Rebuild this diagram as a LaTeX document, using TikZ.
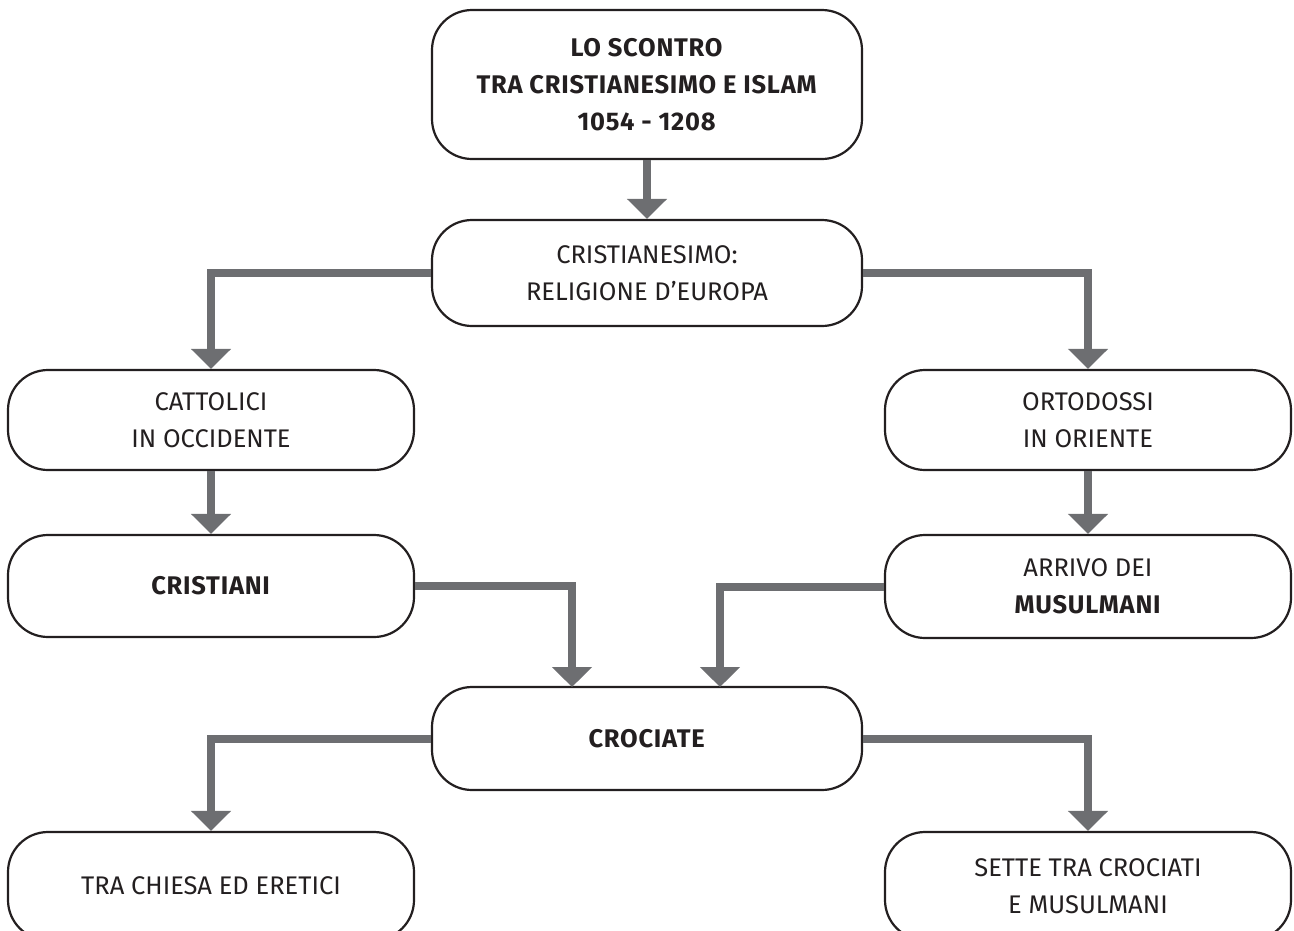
\documentclass[tikz,border=0pt]{standalone}
\usepackage{fontspec}
\setmainfont{Fira Sans}[BoldFeatures={LetterSpace=3}]
\usetikzlibrary{arrows.meta}
\definecolor{conngray}{HTML}{6D6E71}
\definecolor{ink}{HTML}{231F20}
\begin{document}
\begin{tikzpicture}[x=1pt,y=-1pt,
  box/.style={draw=ink, line width=2.2pt, rounded corners=40pt, fill=white,
    align=center, text=ink, inner sep=0pt,
    font=\fontsize{25.5}{37}\selectfont},
  conn/.style={draw=conngray, line width=8pt,
    -{Triangle[width=39pt,length=20pt]}}]
\useasboundingbox (0,0) rectangle (1294,930);
\clip (0,0) rectangle (1294,930);
\node[box, minimum width=430pt, minimum height=149pt] (b1) at (647,84.5)
  {\textbf{LO SCONTRO}\\\textbf{TRA CRISTIANESIMO E ISLAM}\\\textbf{1054 - 1208}};
\node[box, minimum width=430pt, minimum height=106pt] (b2) at (647,273)
  {CRISTIANESIMO:\\RELIGIONE D’EUROPA};
\node[box, minimum width=406pt, minimum height=100pt] (b3) at (211,420)
  {CATTOLICI\\IN OCCIDENTE};
\node[box, minimum width=406pt, minimum height=100pt] (b4) at (1088,420)
  {ORTODOSSI\\IN ORIENTE};
\node[box, minimum width=406pt, minimum height=102pt] (b5) at (211,586)
  {\textbf{CRISTIANI}};
\node[box, minimum width=406pt, minimum height=103pt] (b6) at (1088,586.5)
  {ARRIVO DEI\\\textbf{MUSULMANI}};
\node[box, minimum width=430pt, minimum height=103pt] (b7) at (647,738.5)
  {\textbf{CROCIATE}};
\node[box, minimum width=406pt, minimum height=108pt] (b8) at (211,886)
  {TRA CHIESA ED ERETICI};
\node[box, minimum width=406pt, minimum height=108pt] (b9) at (1088,886)
  {SETTE TRA CROCIATI\\E MUSULMANI};
\coordinate (c1) at (572,687);
\coordinate (c2) at (720,687);
\draw[conn] (b1.south) -- (b2.north);
\draw[conn] (b2.west) -| (b3.north);
\draw[conn] (b2.east) -| (b4.north);
\draw[conn] (b3.south) -- (b5.north);
\draw[conn] (b4.south) -- (b6.north);
\draw[conn] (b5.east) -| (c1);
\draw[conn] (b6.west) -| (c2);
\draw[conn] (b7.west) -| (b8.north);
\draw[conn] (b7.east) -| (b9.north);
\end{tikzpicture}
\end{document}
